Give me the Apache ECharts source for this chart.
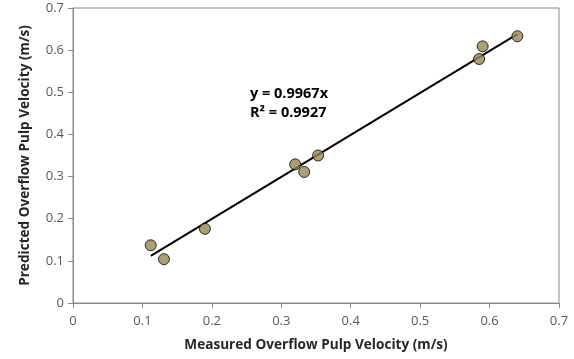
<!DOCTYPE html>
<html><head><meta charset="utf-8">
<script src="https://cdn.jsdelivr.net/npm/echarts@6/dist/echarts.min.js"></script>
<style>html,body{margin:0;padding:0;background:#fff}#c{width:574px;height:359px}</style>
</head><body><div id="c"></div>
<script>
const measured = [0.112, 0.131, 0.190, 0.320, 0.333, 0.353, 0.585, 0.590, 0.640];
const predicted = [0.137, 0.104, 0.176, 0.329, 0.311, 0.350, 0.579, 0.609, 0.633];
const trendX = [0.112, 0.640];
const trendY = [0.1116, 0.6379];
const xTitle = 'Measured Overflow Pulp Velocity (m/s)';
const yTitle = 'Predicted Overflow Pulp Velocity (m/s)';
const eqLines = ['y = 0.9967x', 'R² = 0.9927'];

const font = '"Open Sans", "Liberation Sans", Arial, sans-serif';
const chart = echarts.init(document.getElementById('c'));
chart.setOption({
  animation: false,
  textStyle: {fontFamily: font},
  grid: {left: 73, right: 15, top: 8, bottom: 56, show: true, borderColor: '#898989', borderWidth: 1},
  xAxis: {
    type: 'value', min: 0, max: 0.7, interval: 0.1,
    axisLine: {lineStyle: {color: '#898989'}},
    axisTick: {show: true, inside: false, length: 5, lineStyle: {color: '#898989'}},
    splitLine: {show: false},
    axisLabel: {color: '#595959', fontSize: 13, margin: 12, fontFamily: font},
    name: xTitle, nameLocation: 'middle', nameGap: 35,
    nameTextStyle: {color: '#262626', fontSize: 13.6, fontWeight: 'bold', fontFamily: font}
  },
  yAxis: {
    type: 'value', min: 0, max: 0.7, interval: 0.1,
    axisLine: {show: true, lineStyle: {color: '#898989'}},
    axisTick: {show: true, inside: false, length: 5, lineStyle: {color: '#898989'}},
    splitLine: {show: false},
    axisLabel: {color: '#595959', fontSize: 13, margin: 9, fontFamily: font},
    name: yTitle, nameLocation: 'middle', nameGap: 41,
    nameTextStyle: {color: '#262626', fontSize: 13.6, fontWeight: 'bold', fontFamily: font}
  },
  series: [
    {
      type: 'line', data: trendX.map((x, i) => [x, trendY[i]]),
      symbol: 'none', lineStyle: {color: '#000', width: 2}, z: 2, silent: true
    },
    {
      type: 'scatter', data: measured.map((x, i) => [x, predicted[i]]),
      symbol: 'circle', symbolSize: 11,
      itemStyle: {color: '#948A54', borderColor: '#000', borderWidth: 1}, z: 3
    }
  ],
  graphic: [{
    type: 'text', left: 250, top: 84,
    style: {text: eqLines.join('\n'), font: 'bold 14.5px ' + font, fill: '#000', lineHeight: 19}
  }]
});
</script></body></html>
